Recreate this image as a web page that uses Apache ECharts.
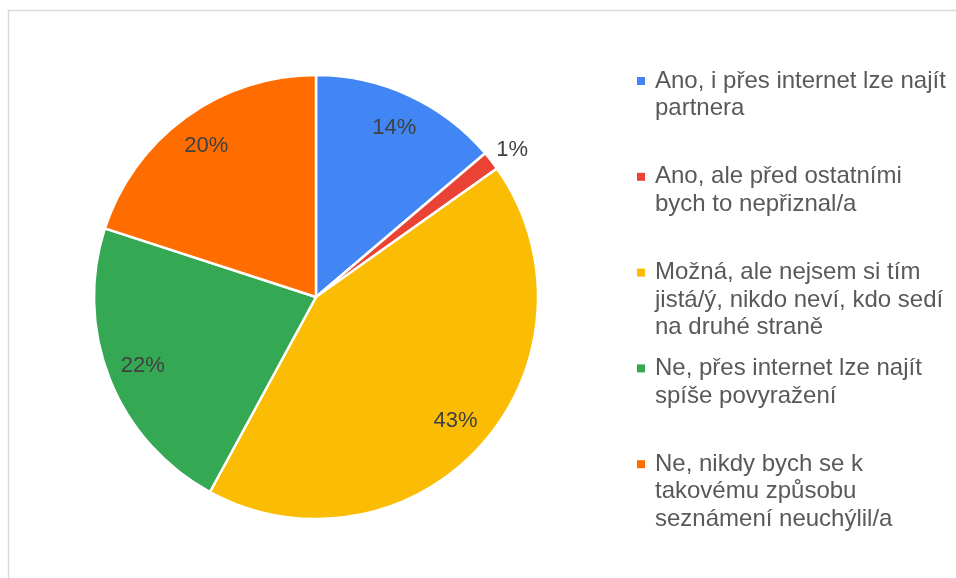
<!DOCTYPE html>
<html>
<head>
<meta charset="utf-8">
<script src="https://cdn.jsdelivr.net/npm/echarts@6/dist/echarts.min.js"></script>
<style>
html, body { margin: 0; padding: 0; background: #fff; }
#chart { width: 956px; height: 578px; }
</style>
</head>
<body>
<div id="chart"></div>
<script>
// odpovědi (zalomení řádků jako v legendě)
const categories = [
  'Ano, i přes internet lze najít\npartnera',
  'Ano, ale před ostatními\nbych to nepřiznal/a',
  'Možná, ale nejsem si tím\njistá/ý, nikdo neví, kdo sedí\nna druhé straně',
  'Ne, přes internet lze najít\nspíše povyražení',
  'Ne, nikdy bych se k\ntakovému způsobu\nseznámení neuchýlil/a'
];
const values = [20, 2, 62, 32, 29];
const colors = ['#4285f4', '#ea4335', '#fbbc04', '#34a853', '#ff6d01'];

const chart = echarts.init(document.getElementById('chart'));

const sliceData = categories.map((c, i) => ({
  name: c.replace(/\n/g, ' '),
  value: values[i],
  itemStyle: { color: colors[i] }
}));

// druhá (průhledná) řada jen kvůli popiskům blíž okraji
const total = values.reduce((a, b) => a + b, 0);
const isSmall = i => values[i] / total < 0.03;
const labelData = categories.map((c, i) => {
  const d = { name: c.replace(/\n/g, ' '), value: values[i] };
  if (isSmall(i)) {
    d.label = { position: 'outside' };
  }
  return d;
});

// legenda – značka zarovnaná s prvním řádkem textu
const legendItems = [];
categories.forEach((c, i) => {
  const cy = 81 + i * 95.8;
  legendItems.push({
    type: 'rect',
    shape: { x: 637, y: cy - 4, width: 8, height: 8 },
    style: { fill: colors[i] }
  });
  legendItems.push({
    type: 'text',
    x: 655,
    y: cy - 13.75,
    style: {
      text: c,
      fontSize: 24,
      fontFamily: 'Liberation Sans, Arial, sans-serif',
      fill: '#595959',
      lineHeight: 27.5,
      verticalAlign: 'top'
    }
  });
});

chart.setOption({
  animation: false,
  tooltip: { trigger: 'item' },
  graphic: [
    {
      type: 'polyline',
      shape: { points: [[8.5, 578], [8.5, 10.5], [956, 10.5]] },
      style: { stroke: '#d9d9d9', lineWidth: 1.5, fill: null },
      silent: true
    }
  ].concat(legendItems),
  series: [
    {
      type: 'pie',
      center: [316, 297],
      radius: 222,
      startAngle: 90,
      clockwise: true,
      label: { show: false },
      labelLine: { show: false },
      itemStyle: { borderColor: '#fff', borderWidth: 2.5 },
      emphasis: { scale: false },
      data: sliceData
    },
    {
      type: 'pie',
      center: [316, 297],
      radius: [145, 222],
      startAngle: 90,
      clockwise: true,
      silent: true,
      tooltip: { show: false },
      avoidLabelOverlap: false,
      itemStyle: { color: 'rgba(0,0,0,0)' },
      label: {
        show: true,
        position: 'inside',
        color: '#404040',
        fontSize: 22,
        fontFamily: 'Liberation Sans, Arial, sans-serif',
        formatter: p => Math.round(p.percent) + '%'
      },
      labelLine: { show: false, length: 0, length2: 0 },
      // malý dílek – popisek venku, posunutý výš
      labelLayout: p => (isSmall(p.dataIndex) ? { dy: -11 } : {}),
      emphasis: { disabled: true },
      data: labelData
    }
  ]
});
</script>
</body>
</html>
